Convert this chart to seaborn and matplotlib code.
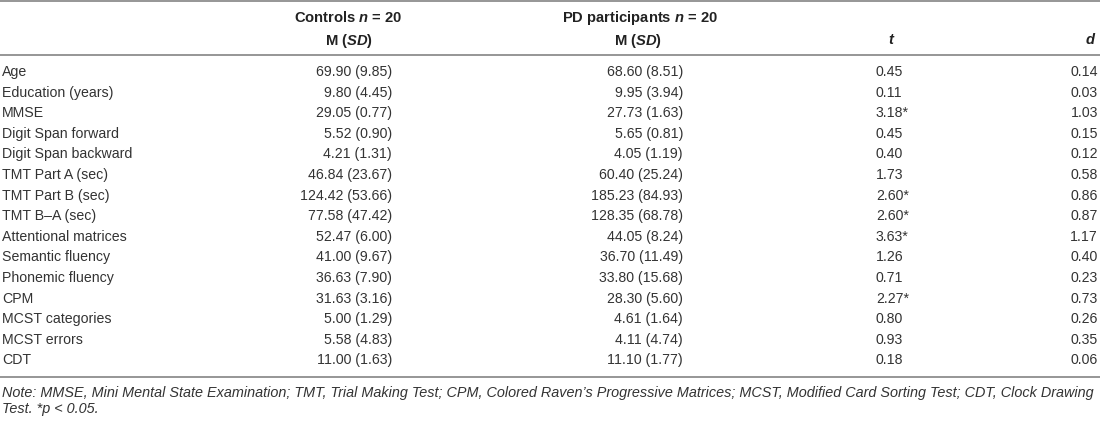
import matplotlib
matplotlib.use('Agg')
import matplotlib.pyplot as plt
import seaborn as sns

# table values
measures = ["Age", "Education (years)", "MMSE", "Digit Span forward",
            "Digit Span backward", "TMT Part A (sec)", "TMT Part B (sec)",
            "TMT B\u2013A (sec)", "Attentional matrices", "Semantic fluency",
            "Phonemic fluency", "CPM", "MCST categories", "MCST errors", "CDT"]
ctrl_mean = [69.90, 9.80, 29.05, 5.52, 4.21, 46.84, 124.42, 77.58, 52.47,
             41.00, 36.63, 31.63, 5.00, 5.58, 11.00]
ctrl_sd = [9.85, 4.45, 0.77, 0.90, 1.31, 23.67, 53.66, 47.42, 6.00,
           9.67, 7.90, 3.16, 1.29, 4.83, 1.63]
pd_mean = [68.60, 9.95, 27.73, 5.65, 4.05, 60.40, 185.23, 128.35, 44.05,
           36.70, 33.80, 28.30, 4.61, 4.11, 11.10]
pd_sd = [8.51, 3.94, 1.63, 0.81, 1.19, 25.24, 84.93, 68.78, 8.24,
         11.49, 15.68, 5.60, 1.64, 4.74, 1.77]
t_vals = [0.45, 0.11, 3.18, 0.45, 0.40, 1.73, 2.60, 2.60, 3.63,
          1.26, 0.71, 2.27, 0.80, 0.93, 0.18]
signif = [False, False, True, False, False, False, True, True, True,
          False, False, True, False, False, False]
d_vals = [0.14, 0.03, 1.03, 0.15, 0.12, 0.58, 0.86, 0.87, 1.17,
          0.40, 0.23, 0.73, 0.26, 0.35, 0.06]

note_lines = ["Note: MMSE, Mini Mental State Examination; TMT, Trial Making Test; "
              "CPM, Colored Raven\u2019s Progressive Matrices; MCST, Modified Card "
              "Sorting Test; CDT, Clock Drawing",
              "Test. *p < 0.05."]

sns.set_theme(style="white")
plt.rcParams['font.family'] = ['Liberation Sans', 'DejaVu Sans']
plt.rcParams['mathtext.fontset'] = 'custom'
plt.rcParams['mathtext.it'] = 'Liberation Sans:italic:bold'
plt.rcParams['mathtext.rm'] = 'Liberation Sans:bold'
plt.rcParams['mathtext.bf'] = 'Liberation Sans:bold'

txt_col = '#333333'
line_col = '#8e8e8e'
fs = 10.2

fig = plt.figure(figsize=(11, 4.21), dpi=100)
ax = fig.add_axes([0, 0, 1, 1])
ax.set_xlim(0, 1100)
ax.set_ylim(421, 0)
ax.axis('off')

# rules
for yy in [1, 54.5, 377]:
    ax.axhline(yy, color=line_col, lw=1.3)

# header
hdr = dict(fontsize=fs + 0.4, fontweight='bold', color='#222222', va='baseline')
ax.text(348.5, 22.3, r"Controls $n$ = 20", ha='center', **hdr)
ax.text(348.5, 44.5, r"M ($SD$)", ha='center', **hdr)
ax.text(640, 22.3, r"PD participants $n$ = 20", ha='center', **hdr)
ax.text(638, 44.5, r"M ($SD$)", ha='center', **hdr)
ax.text(891, 44.5, "t", ha='center', fontstyle='italic', **hdr)
ax.text(1090, 44.5, "d", ha='center', fontstyle='italic', **hdr)

# body rows
body = dict(color=txt_col, va='baseline')
for i, name in enumerate(measures):
    y = 76 + i * 20.6
    ax.text(2, y, name, ha='left', fontsize=fs, **body)
    ax.text(392, y, f"{ctrl_mean[i]:.2f} ({ctrl_sd[i]:.2f})", ha='right',
            fontsize=fs, **body)
    ax.text(683, y, f"{pd_mean[i]:.2f} ({pd_sd[i]:.2f})", ha='right',
            fontsize=fs, **body)
    star = "*" if signif[i] else ""
    ax.text(876, y, f"{t_vals[i]:.2f}{star}", ha='left', fontsize=fs, **body)
    ax.text(1098, y, f"{d_vals[i]:.2f}", ha='right', fontsize=fs, **body)

# note under the table
for j, line in enumerate(note_lines):
    ax.text(2, 396.7 + j * 16.5, line, ha='left', fontstyle='italic',
            fontsize=10.38, **body)

fig.savefig('out.png', dpi=100)
plt.close(fig)
